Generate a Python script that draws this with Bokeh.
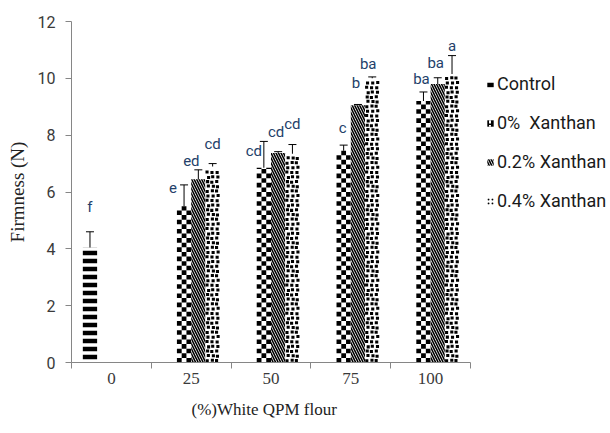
import numpy as np
from bokeh.plotting import figure
from bokeh.models import (Range1d, FixedTicker, Whisker, TeeHead, ColumnDataSource,
                          Legend, LegendItem, Title)
from bokeh.core.properties import value
from bokeh.embed import file_html
from bokeh.resources import INLINE

# ---------------- data ----------------
categories = ["0", "25", "50", "75", "100"]
series_names = ["Control", "0%  Xanthan", "0.2% Xanthan", "0.4% Xanthan"]
x_title = "(%)White QPM flour"
y_title = "Firmness (N)"

control_vals = [4.05]
control_err = [0.55]
control_lbl = ["f"]

x0_vals = [5.5, 6.85, 7.45, 9.2]
x0_err = [0.75, 0.93, 0.2, 0.32]
x0_lbl = ["e", "cd", "c", "ba"]

x2_vals = [6.45, 7.37, 9.05, 9.8]
x2_err = [0.33, 0.05, 0.03, 0.22]
x2_lbl = ["ed", "cd", "b", "ba"]

x4_vals = [6.9, 7.35, 10.0, 10.15]
x4_err = [0.1, 0.32, 0.05, 0.65]
x4_lbl = ["cd", "cd", "ba", "a"]

y_ticks = [0, 2, 4, 6, 8, 10, 12]

# label nudges in screen px (dx, dy; dy>0 = down)
control_off = [(0, -25)]
x0_off = [(-11, 3), (-10, 10), (-1, -17), (-2, -13)]
x2_off = [(-7, -9), (-2, -20), (-2, -21), (-2, -15)]
x4_off = [(0, -20), (0, -21), (-4, -13), (0, -10)]

# ---------------- layout helpers ----------------
W = 0.179            # bar width in category units
PX_X = 399 / 5.0     # screen px per x unit
PX_Y = 340.5 / 12.0  # screen px per y unit
FRAME_L, FRAME_R = 71, 608
NCAT = len(categories)
X_END = (FRAME_R - FRAME_L) / PX_X


def slot_x(cat_idx, slot):
    return np.asarray(cat_idx) + 0.5 + (slot - 1.5) * W


series = [
    ([0], control_vals, control_err, control_lbl, control_off, 0),
    ([1, 2, 3, 4], x0_vals, x0_err, x0_lbl, x0_off, 1),
    ([1, 2, 3, 4], x2_vals, x2_err, x2_lbl, x2_off, 2),
    ([1, 2, 3, 4], x4_vals, x4_err, x4_lbl, x4_off, 3),
]

p = figure(width=610, height=433, x_range=Range1d(0, X_END), y_range=Range1d(0, 12),
           output_backend="svg", toolbar_location=None,
           min_border_left=FRAME_L, min_border_right=610 - FRAME_R,
           min_border_top=21, min_border_bottom=71)
p.outline_line_color = None
p.xgrid.visible = False
p.ygrid.visible = False
p.background_fill_color = "white"
p.border_fill_color = "white"

styles = [
    dict(hatch_pattern="horizontal_line", hatch_scale=8, hatch_weight=4.5, hatch_color="black"),
    dict(),
    dict(hatch_pattern="left_diagonal_line", hatch_scale=5, hatch_weight=1.6, hatch_color="black"),
    dict(),
]


def checker_quads(xc, top):
    ncol = 3
    cw = W / ncol
    ch = 4.6 / PX_Y
    L, R, B, T = [], [], [], []
    nrow = int(np.ceil(top / ch))
    for r in range(nrow):
        for c in range(ncol):
            if (r + c) % 2 == 0:
                L.append(xc - W / 2 + c * cw)
                R.append(xc - W / 2 + (c + 1) * cw)
                B.append(r * ch)
                T.append(min((r + 1) * ch, top))
    return L, R, B, T


def dot_quads(xc, top):
    ncol = 3
    cw = W / ncol
    ch = 4.7 / PX_Y
    dw = 3.1 / PX_X
    dh = 3.0 / PX_Y
    fx = [0.1, 0.8, 0.35, 0.95, 0.0, 0.55]
    fy = [0.1, 0.5, 0.3, 0.0, 0.4, 0.2]
    L, R, B, T = [], [], [], []
    nrow = int(np.floor(top / ch))
    for r in range(nrow):
        for c in range(ncol):
            k = (r + 2 * c) % len(fx)
            l = xc - W / 2 + c * cw + fx[k] * (cw - dw)
            b = r * ch + fy[(r + c) % len(fy)] * (ch - dh)
            if b + dh <= top:
                L.append(l)
                R.append(l + dw)
                B.append(b)
                T.append(b + dh)
    return L, R, B, T


renderers = []
all_x, all_top, all_err, all_lbl, all_dx, all_dy = [], [], [], [], [], []
for (cats, vals, errs, lbls, offs, slot), st in zip(series, styles):
    xs = slot_x(cats, slot)
    src = ColumnDataSource(dict(x=xs, top=vals))
    r = p.vbar(x="x", top="top", width=W, source=src, fill_color="white",
               line_color=None, **st)
    renderers.append(r)
    if slot in (1, 3):
        fn = checker_quads if slot == 1 else dot_quads
        L, R, B, T = [], [], [], []
        for xc, tp in zip(xs, vals):
            l, rr, b, t = fn(xc, tp)
            L += l; R += rr; B += b; T += t
        p.quad(left=L, right=R, bottom=B, top=T, fill_color="black", line_color=None)
    all_x += list(xs)
    all_top += list(vals)
    all_err += list(errs)
    all_lbl += list(lbls)
    all_dx += [o[0] for o in offs]
    all_dy += [o[1] for o in offs]

# legend swatches (off-range renderers, used only for the key)
lg0 = p.vbar(x=[-10], top=[1], width=W, fill_color="black", line_color=None,
             hatch_pattern="vertical_dash", hatch_color="white", hatch_scale=6, hatch_weight=2)
lg4 = p.vbar(x=[-10], top=[1], width=W, fill_color="white", line_color=None,
             hatch_pattern="dot", hatch_color="black", hatch_scale=4, hatch_weight=3)
legend_renderers = [renderers[0], lg0, renderers[2], lg4]

all_top = np.array(all_top)
all_err = np.array(all_err)
esrc = ColumnDataSource(dict(x=all_x, upper=all_top + all_err, lower=all_top - all_err,
                             lbl=all_lbl, dx=all_dx, dy=all_dy))
wh = Whisker(base="x", upper="upper", lower="lower", source=esrc, dimension="height",
             line_color="black", line_width=1,
             upper_head=TeeHead(size=8, line_color="black", line_width=1),
             lower_head=TeeHead(size=8, line_color="black", line_width=1))
p.add_layout(wh)

p.text(x="x", y="upper", text="lbl", x_offset="dx", y_offset="dy", source=esrc,
       text_font=value("Roboto"), text_font_size=value("15px"), text_color="#243f6a",
       text_align="center", text_baseline="middle")

# axes
axis_col = "#868686"
tick_col = "#3a3a3a"
xa = p.xaxis[0]
xa.bounds = (0, NCAT)
xa.ticker = FixedTicker(ticks=[i + 0.5 for i in range(NCAT)],
                        minor_ticks=list(range(NCAT + 1)))
xa.major_label_overrides = {i + 0.5: c for i, c in enumerate(categories)}
xa.major_tick_line_color = None
xa.major_tick_out = 6
xa.major_tick_in = 0
xa.minor_tick_line_color = axis_col
xa.minor_tick_out = 6
xa.minor_tick_in = 0
xa.axis_line_color = axis_col
xa.major_label_standoff = 4
xa.major_label_text_font = "Liberation Serif"
xa.major_label_text_font_size = "17px"
xa.major_label_text_color = tick_col

# x title: sits under the category axis (left-aligned with a pixel offset)
xt = Title(text=x_title, align="left", offset=120,
           text_font="Liberation Serif", text_font_size="17px", text_font_style="normal",
           text_color="#222222", standoff=23)
p.add_layout(xt, "below")

ya = p.yaxis[0]
ya.ticker = FixedTicker(ticks=y_ticks)
ya.major_tick_line_color = axis_col
ya.major_tick_out = 6
ya.major_tick_in = 0
ya.minor_tick_line_color = None
ya.axis_line_color = axis_col
ya.major_label_standoff = 10
ya.major_label_text_font = "Roboto"
ya.major_label_text_font_size = "16px"
ya.major_label_text_color = tick_col
ya.axis_label = y_title
ya.axis_label_text_font = "Liberation Serif"
ya.axis_label_text_font_size = "19px"
ya.axis_label_text_font_style = "normal"
ya.axis_label_text_color = "#222222"
ya.axis_label_standoff = 7

legend = Legend(items=[LegendItem(label=n, renderers=[r]) for n, r in zip(series_names, legend_renderers)],
                location=(486 - FRAME_L, 151), orientation="vertical",
                glyph_width=8, glyph_height=8, label_standoff=3, label_height=20, spacing=18,
                padding=0, margin=0, border_line_color=None, background_fill_alpha=0,
                label_text_font="Roboto", label_text_font_size="18px", label_text_color="#1a1a1a")
p.add_layout(legend)

open("out.html", "w").write(file_html(p, INLINE))
